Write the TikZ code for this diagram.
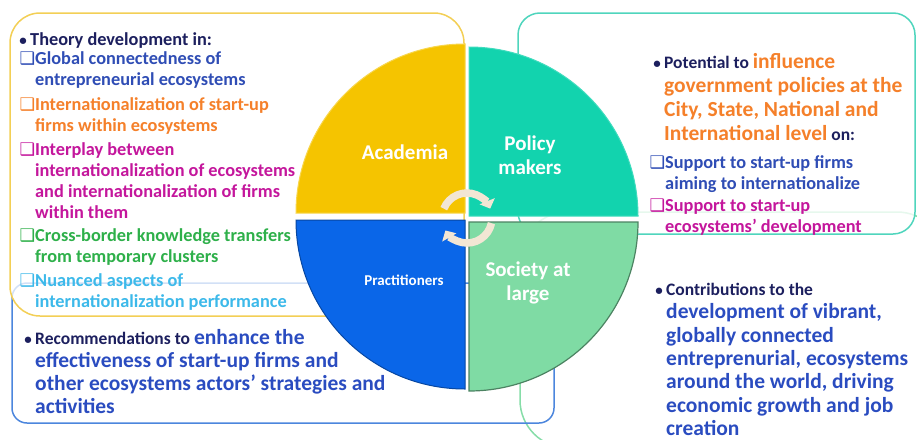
\documentclass[tikz,border=0pt]{standalone}
\usepackage{fontspec}
\setmainfont{Carlito}
\newfontfamily\symf[Scale=0.95]{DejaVu Sans}
\usetikzlibrary{arrows.meta}

\definecolor{navy}{HTML}{1C1F5E}
\definecolor{itemblue}{HTML}{2F4DB5}
\definecolor{bigblue}{HTML}{2A4CC0}
\definecolor{orng}{HTML}{F5802A}
\definecolor{magen}{HTML}{C4169C}
\definecolor{grn}{HTML}{2EB04A}
\definecolor{ltblue}{HTML}{3CB9EA}
\definecolor{acadcol}{HTML}{F5C400}
\definecolor{policycol}{HTML}{12D3AE}
\definecolor{practcol}{HTML}{0A66E8}
\definecolor{societycol}{HTML}{7FDBA4}
\definecolor{yellowline}{HTML}{F3CF55}
\definecolor{blueline}{HTML}{4C86DD}
\definecolor{tealline}{HTML}{4FD5BD}
\definecolor{greenline}{HTML}{86DDA8}
\definecolor{cream}{HTML}{F2E6D4}

\newcommand{\qbox}{\llap{{\symf\char"2751}}}
\newcommand{\bul}{\llap{{\color{navy}\fontsize{15}{15}\selectfont\textbullet\ }}}
\newcommand{\lead}{\fontsize{17.5}{23}\selectfont}

\begin{document}
\begin{tikzpicture}[x=1pt,y=1pt,
  frame/.style={rounded corners=#1, line width=1.5pt},
  txt/.style={anchor=north west, inner sep=0pt, align=left,
    font=\bfseries\fontsize{18.3}{21}\selectfont},
  big/.style={anchor=north west, inner sep=0pt, align=left,
    font=\bfseries\fontsize{21.5}{23}\selectfont},
  lab/.style={text=white, align=center,
    font=\bfseries\fontsize{21}{24.5}\selectfont},
  cyc/.style={line width=7.5pt, cream, -{Triangle[length=8pt,width=16pt]}}]
  \useasboundingbox (0,0) rectangle (917,-439);

  % frames behind the circle
  \draw[frame=48, greenline] (520,-212) rectangle (945,-448);
  \draw[frame=22, tealline, fill=white, fill opacity=0.8] (518,-13) rectangle (915,-234);
  \draw[frame=15, blueline] (12,-283) rectangle (554,-423);
  \draw[frame=30, yellowline, fill=white, fill opacity=0.75] (10,-13) rectangle (464,-316);

  % academia side
  \node[txt, text=navy] (theory) at (30,-32) {\bul Theory development in:};
  \node[txt, text=itemblue] (global) at (35,-51) {\qbox Global connectedness of\\entrepreneurial ecosystems};
  \node[txt, text=orng] (intl) at (35,-97) {\qbox Internationalization of start-up\\firms within ecosystems};
  \node[txt, text=magen] (interplay) at (35,-142) {\qbox Interplay between\\internationalization of ecosystems\\and internationalization of firms\\within them};
  \node[txt, text=grn] (cross) at (35,-228) {\qbox Cross-border knowledge transfers\\from temporary clusters};
  \node[txt, text=ltblue] (nuanced) at (35,-273) {\qbox Nuanced aspects of\\internationalization performance};

  % practitioners side
  \node[big, text=bigblue] (recom) at (35,-329)
    {\bul{\color{navy}\lead Recommendations to }enhance the\\effectiveness of start-up firms and\\other ecosystems actors' strategies and\\activities};

  % policy makers side
  \node[big, text=orng, font=\bfseries\fontsize{21.5}{24}\selectfont] (potential) at (664,-53)
    {\bul{\color{navy}\lead Potential to }influence\\government policies  at the\\City, State, National and\\International level{\color{navy}\lead\ on:}};
  \node[txt, text=itemblue] (support1) at (665,-155) {\qbox Support to start-up firms\\aiming to internationalize};
  \node[txt, text=magen] (support2) at (665,-199) {\qbox Support to start-up\\ecosystems' development};

  % society side
  \node[big, text=bigblue, font=\bfseries\fontsize{21.5}{23.3}\selectfont] (contrib) at (666,-283)
    {\bul{\color{navy}\lead Contributions to the}\\development of vibrant,\\globally connected\\entreprenurial, ecosystems\\around the world, driving\\economic growth and job\\creation};

  % the four quadrants
  \filldraw[fill=acadcol, draw=acadcol!70!white, line width=1pt]
    (465,-213) -- ++(-169,0) arc[start angle=180, end angle=90, radius=169] -- cycle;
  \filldraw[fill=policycol, draw=policycol!80!white, line width=1pt]
    (469,-216) -- ++(0,169) arc[start angle=90, end angle=0, radius=169] -- cycle;
  \filldraw[fill=practcol, draw=practcol!70!black, line width=1pt]
    (465,-220) -- ++(-169,0) arc[start angle=180, end angle=270, radius=169] -- cycle;
  \filldraw[fill=societycol, draw=societycol!60!black, line width=1.2pt]
    (469,-222) -- ++(169,0) arc[start angle=0, end angle=-90, radius=169] -- cycle;

  \node[lab] (acadlab) at (405,-152) {Academia};
  \node[lab] (policylab) at (530,-155) {Policy\\makers};
  \node[lab, font=\bfseries\fontsize{15}{18}\selectfont] (practlab) at (404,-280) {Practitioners};
  \node[lab] (societylab) at (528,-283) {Society at\\large};

  % cycle arrows in the middle
  \draw[cyc] (467,-218) ++(158:25) arc[start angle=158, end angle=22, radius=25];
  \draw[cyc] (467,-218) ++(-12:25) arc[start angle=-12, end angle=-150, radius=25];
\end{tikzpicture}
\end{document}
